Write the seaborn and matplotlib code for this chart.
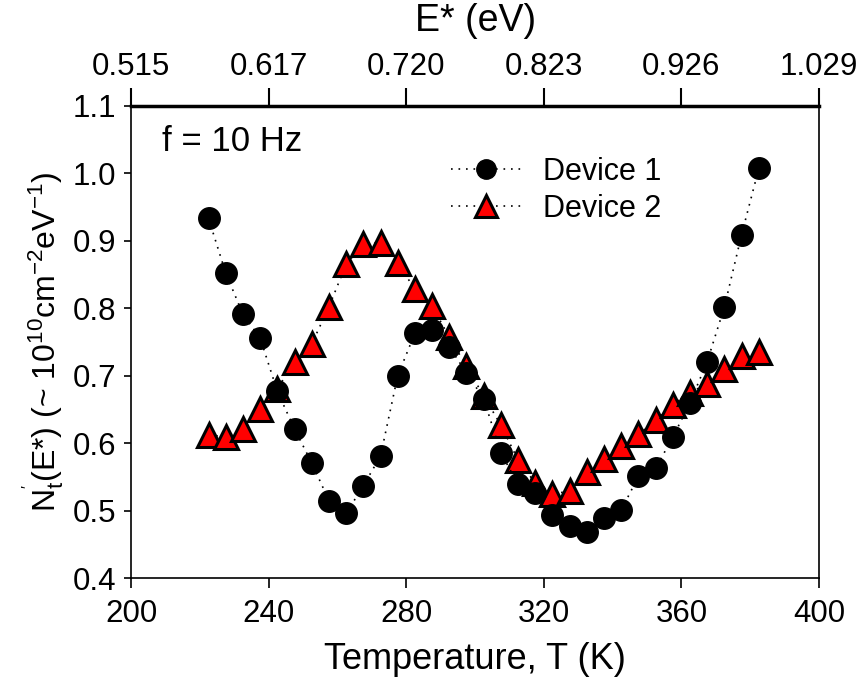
import matplotlib
matplotlib.use("Agg")
import matplotlib.pyplot as plt
import seaborn as sns
import pandas as pd

temperature = [222.5, 227.5, 232.5, 237.5, 242.5, 247.5, 252.5, 257.5, 262.5, 267.5,
               272.5, 277.5, 282.5, 287.5, 292.5, 297.5, 302.5, 307.5, 312.5, 317.5,
               322.5, 327.5, 332.5, 337.5, 342.5, 347.5, 352.5, 357.5, 362.5, 367.5,
               372.5, 377.5, 382.5]
device1 = [0.933, 0.852, 0.791, 0.756, 0.677, 0.621, 0.571, 0.515, 0.496, 0.537,
           0.581, 0.700, 0.763, 0.768, 0.743, 0.704, 0.666, 0.586, 0.539, 0.526,
           0.494, 0.477, 0.469, 0.489, 0.501, 0.551, 0.563, 0.609, 0.660, 0.721,
           0.802, 0.909, 1.007]
device2 = [0.612, 0.610, 0.621, 0.650, 0.681, 0.720, 0.747, 0.802, 0.865, 0.895,
           0.897, 0.867, 0.828, 0.803, 0.757, 0.714, 0.670, 0.627, 0.575, 0.541,
           0.525, 0.529, 0.557, 0.576, 0.596, 0.613, 0.634, 0.657, 0.675, 0.688,
           0.710, 0.729, 0.735]
x_ticks = [200, 240, 280, 320, 360, 400]
top_tick_labels = ["0.515", "0.617", "0.720", "0.823", "0.926", "1.029"]
y_ticks = [0.4, 0.5, 0.6, 0.7, 0.8, 0.9, 1.0, 1.1]

sns.set_theme(style="white")
plt.rcParams['font.family'] = ['Liberation Sans', 'DejaVu Sans']
plt.rcParams['mathtext.fontset'] = 'custom'
plt.rcParams['mathtext.rm'] = 'Liberation Sans'
plt.rcParams['mathtext.it'] = 'Liberation Sans'
plt.rcParams['mathtext.bf'] = 'Liberation Sans'
plt.rcParams['text.color'] = 'black'
plt.rcParams['axes.labelcolor'] = 'black'
plt.rcParams['xtick.color'] = 'black'
plt.rcParams['ytick.color'] = 'black'

df = pd.DataFrame({"T": temperature, "d1": device1, "d2": device2})

fig = plt.figure(figsize=(8.63, 6.86), dpi=100)
ax = fig.add_axes([0.152, 0.157, 0.797, 0.689])

dot = (0, (1, 3.5))
sns.lineplot(data=df, x="T", y="d2", ax=ax, color="black", linestyle=dot, lw=1.2,
             marker="^", markersize=17, markerfacecolor="red",
             markeredgecolor="black", markeredgewidth=2.2, zorder=2,
             label="Device 2", sort=False)
sns.lineplot(data=df, x="T", y="d1", ax=ax, color="black", linestyle=dot, lw=1.2,
             marker="o", markersize=15.5, markerfacecolor="black",
             markeredgecolor="black", markeredgewidth=1, zorder=3,
             label="Device 1", sort=False)

ax.set_xlim(200, 400)
ax.set_ylim(0.4, 1.1)
ax.set_xticks(x_ticks)
ax.set_xticklabels([str(t) for t in x_ticks])
ax.set_yticks(y_ticks)
ax.set_yticklabels([f"{v:.1f}" for v in y_ticks])
ax.tick_params(axis="x", direction="out", length=7, width=1.2, labelsize=22.5, pad=8,
               bottom=True, top=False)
ax.tick_params(axis="y", direction="out", length=5, width=1.2, labelsize=22.5, pad=6,
               left=True, right=False)
for s in ["left", "right", "bottom"]:
    ax.spines[s].set_linewidth(1.2)
    ax.spines[s].set_color("black")
ax.spines["top"].set_visible(False)

ax.set_xlabel("Temperature, T (K)", fontsize=26, labelpad=9)
ax.set_ylabel(r"N$_t^{'}$(E*) (~ 10$^{10}$cm$^{-2}$eV$^{-1}$)", fontsize=23,
              labelpad=4)

ax2 = ax.twiny()
ax2.set_xlim(200, 400)
ax2.set_xticks(x_ticks)
ax2.set_xticklabels(top_tick_labels)
ax2.tick_params(axis="x", direction="out", length=13, width=1.5, labelsize=22.5, pad=4)
for s in ["left", "right", "bottom"]:
    ax2.spines[s].set_visible(False)
ax2.spines["top"].set_linewidth(2.5)
ax2.spines["top"].set_color("black")
ax2.set_xlabel("E* (eV)", fontsize=27, labelpad=15)

ax.text(0.045, 0.958, "f = 10 Hz", transform=ax.transAxes, fontsize=25,
        ha="left", va="top")

handles, labels = ax.get_legend_handles_labels()
order = [labels.index("Device 1"), labels.index("Device 2")]
leg = ax.legend([handles[i] for i in order], [labels[i] for i in order],
                loc="upper left", bbox_to_anchor=(0.498, 0.803),
                bbox_transform=fig.transFigure,
                frameon=False, fontsize=22, markerscale=0.9, handlelength=2.3,
                handletextpad=0.7, labelspacing=0.25, borderpad=0.2)
for t in leg.get_texts():
    t.set_color("black")

fig.savefig("out.png", dpi=100)
